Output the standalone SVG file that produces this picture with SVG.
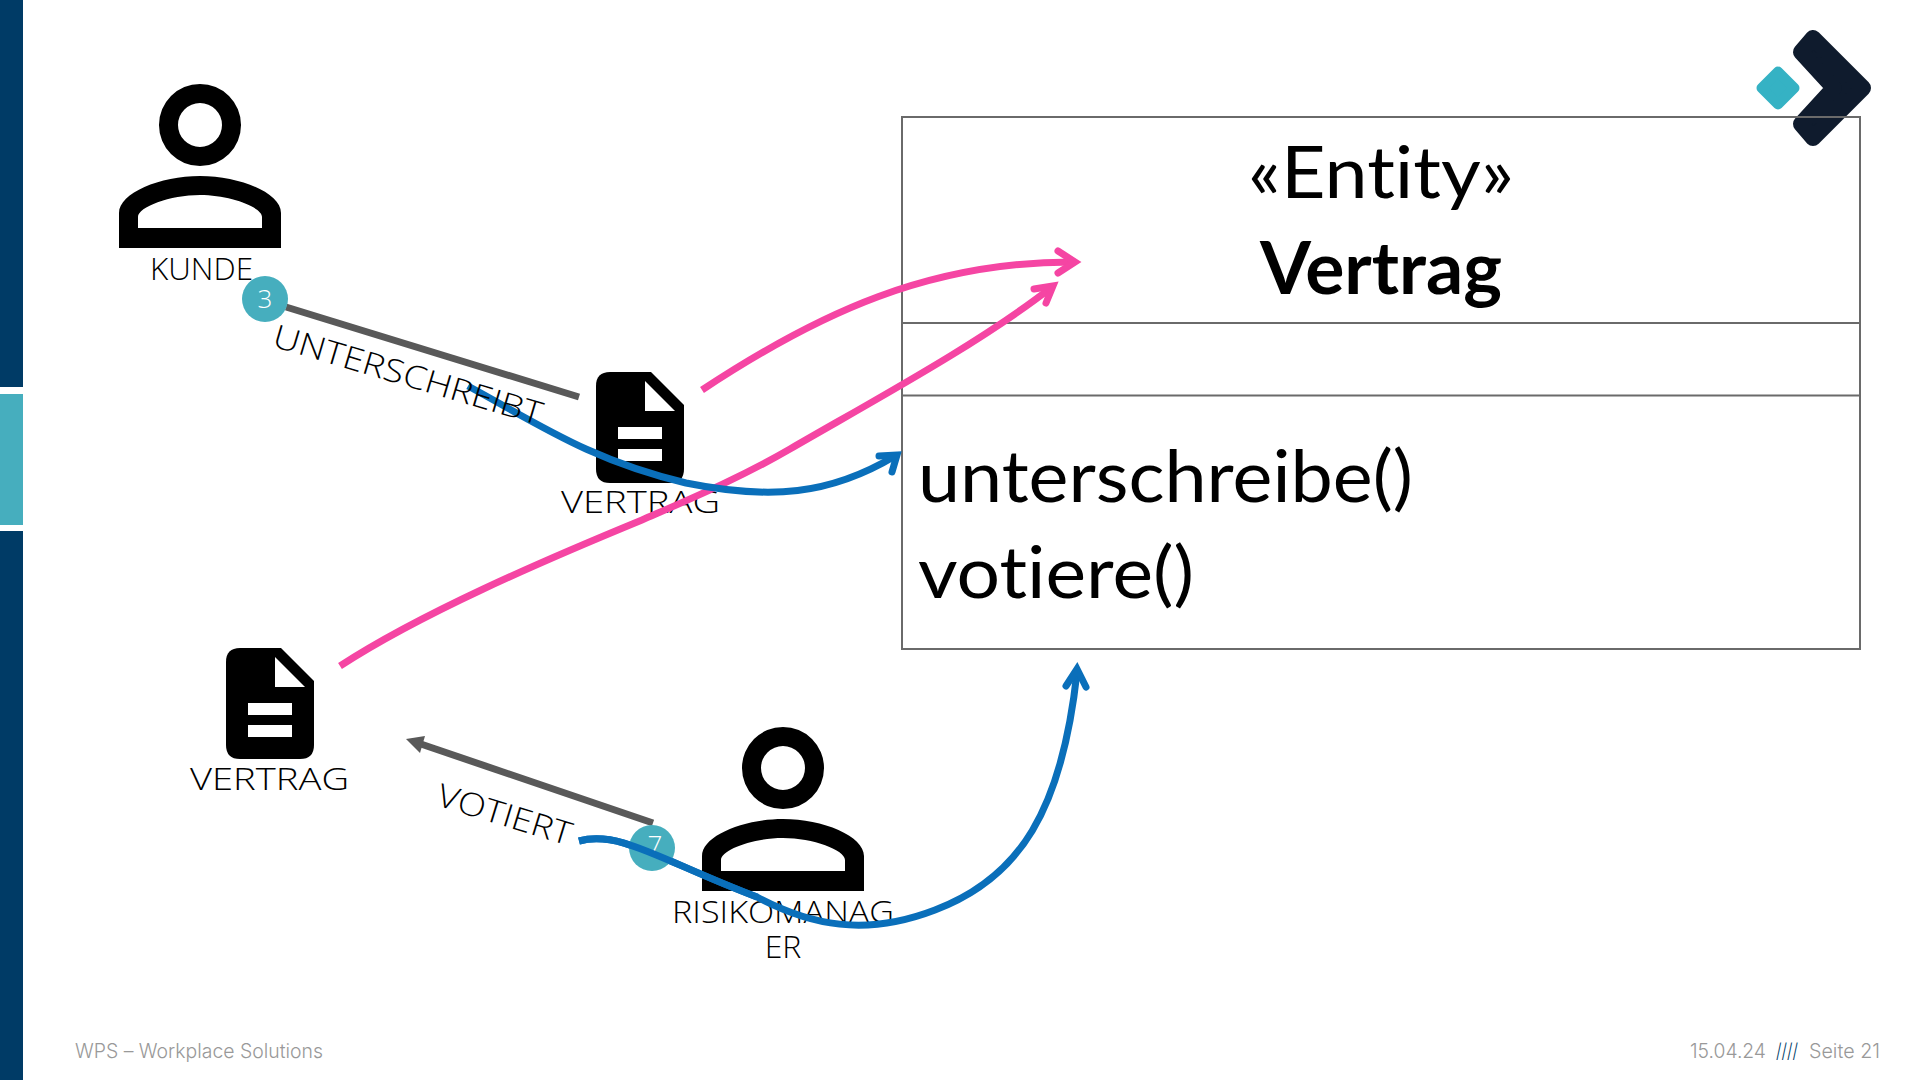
<svg xmlns="http://www.w3.org/2000/svg" width="1920" height="1080" viewBox="0 0 1920 1080">
<style>
text{font-variant-ligatures:none}
.hand{font-family:"Open Sans","Liberation Sans",sans-serif;font-weight:300;fill:#000;font-size:32px}
.uml{font-family:Lato,"Liberation Sans",sans-serif;fill:#000;font-size:72px}
.foot{font-family:Inter,"Liberation Sans",sans-serif;font-weight:300;fill:#999;font-size:20px}
.row{fill:none;stroke:#6a6a6a;stroke-width:2}
.pink{fill:none;stroke:#f545a3;stroke-width:7}
.blue{fill:none;stroke:#0a6fba;stroke-width:7}
.grey{fill:none;stroke:#595959;stroke-width:7}
.head{stroke-linecap:round;stroke-linejoin:miter;stroke-miterlimit:10}
.badge{fill:#46aebe}
.num{font-family:"Open Sans",sans-serif;font-weight:300;fill:#fff;font-size:26px;text-anchor:middle}
</style>
<defs>
<g id="person">
<path fill-rule="evenodd" d="M0-41a41 41 0 1 1 0 82a41 41 0 1 1 0-82zM0-22a22 22 0 1 0 0 44a22 22 0 1 0 0-44z"/>
<path fill-rule="evenodd" d="M-81 123V88C-81 68-40 51 0 51S81 68 81 88V123zM-62 103H62V92C62 82 30 70 0 70S-62 82-62 92z"/>
</g>
<g id="doc">
<path d="M14 0H55L88 33V97Q88 111 74 111H14Q0 111 0 97V14Q0 0 14 0z"/>
<path fill="#fff" d="M49 9V39H79zM22 55H66V67H22zM22 77H66V89H22z"/>
</g>
</defs>
<rect x="0" y="0" width="23" height="387" fill="#003b66"/>
<rect x="0" y="394" width="23" height="131" fill="#46aebe"/>
<rect x="0" y="531" width="23" height="549" fill="#003b66"/>
<g id="logo">
<path d="M1778 71.500L1794.500 88L1778 104.500L1761.500 88z" fill="#35b2c4" stroke="#35b2c4" stroke-width="10" stroke-linejoin="round"/>
<path d="M1813 38L1863 88L1813 138L1801 124L1834 88L1801 52z" fill="#0f1b2d" stroke="#0f1b2d" stroke-width="16" stroke-linejoin="round"/>
</g>
<g id="entity">
<rect class="row" x="902" y="117" width="958" height="532"/>
<path class="row" d="M902 323H1860M902 395.500H1860"/>
<text class="uml" x="1381" y="198" text-anchor="middle" textLength="266" lengthAdjust="spacingAndGlyphs">«Entity»</text>
<text class="uml" x="1381" y="294" text-anchor="middle" font-weight="700" textLength="242" lengthAdjust="spacingAndGlyphs">Vertrag</text>
<text class="uml" x="918" y="502" textLength="495" lengthAdjust="spacingAndGlyphs">unterschreibe()</text>
<text class="uml" x="918" y="598" textLength="276" lengthAdjust="spacingAndGlyphs">votiere()</text>
</g>
<g id="kunde">
<use href="#person" x="200" y="125"/>
<text class="hand" x="150" y="280" textLength="103" lengthAdjust="spacingAndGlyphs">KUNDE</text>
</g>
<g id="vertrag1">
<use href="#doc" x="596" y="372"/>
<text class="hand" x="561" y="513" textLength="159" lengthAdjust="spacingAndGlyphs">VERTRAG</text>
</g>
<g id="vertrag2">
<use href="#doc" x="226" y="648"/>
<text class="hand" x="190" y="790" textLength="159" lengthAdjust="spacingAndGlyphs">VERTRAG</text>
</g>
<g id="risikomanager">
<use href="#person" x="783" y="768"/>
<text class="hand" x="672" y="923" textLength="222" lengthAdjust="spacingAndGlyphs">RISIKOMANAG</text>
<text class="hand" x="783" y="958" text-anchor="middle">ER</text>
</g>
<g id="connectors">
<path class="grey" d="M286 307L579 397"/>
<path class="grey" d="M653 823L415 742"/>
<path fill="#595959" d="M406 739L425 736L420 753z"/>
<path class="pink" d="M702 390C820 312 930 262 1072 262"/>
<path class="pink head" d="M1058 251L1075 262L1058 273"/>
<path class="pink" d="M340 666C420 614 540 562 642 520C690 499 740 478 790 449C880 397 980 343 1052 287"/>
<path class="pink head" d="M1034 289L1053 286L1046 303"/>
<path class="blue" d="M468 386C540 425 590 460 686 483C770 500 830 495 895 456"/>
<path class="blue head" d="M879 456L897 455L892 472"/>
<path class="blue" d="M579 841C620 830 660 860 757 897C810 925 865 937 935 910C1020 878 1062 810 1077 672"/>
<path class="blue head" d="M1066 686L1077 669L1086 687"/>
</g>
<g id="badge3"><ellipse class="badge" cx="265" cy="299" rx="23" ry="23"/><text class="num" x="265" y="308">3</text></g>
<g id="badge7"><ellipse class="badge" cx="652" cy="848" rx="23" ry="23"/><text class="num" x="655" y="854">7</text></g>
<path class="blue" d="M579 841C620 830 660 860 757 897"/>
<text class="hand" transform="translate(271 346) rotate(16.500)" textLength="279" lengthAdjust="spacingAndGlyphs">UNTERSCHREIBT</text>
<text class="hand" transform="translate(435 805) rotate(17)" textLength="139" lengthAdjust="spacingAndGlyphs">VOTIERT</text>
<g id="footer">
<text class="foot" x="75" y="1058" textLength="248" lengthAdjust="spacingAndGlyphs">WPS – Workplace Solutions</text>
<text class="foot" x="1690" y="1058" textLength="76" lengthAdjust="spacingAndGlyphs">15.04.24</text>
<text class="foot" x="1776" y="1058" style="fill:#003b66" textLength="22" lengthAdjust="spacingAndGlyphs">////</text>
<text class="foot" x="1809" y="1058" textLength="71" lengthAdjust="spacingAndGlyphs">Seite 21</text>
</g>
</svg>
